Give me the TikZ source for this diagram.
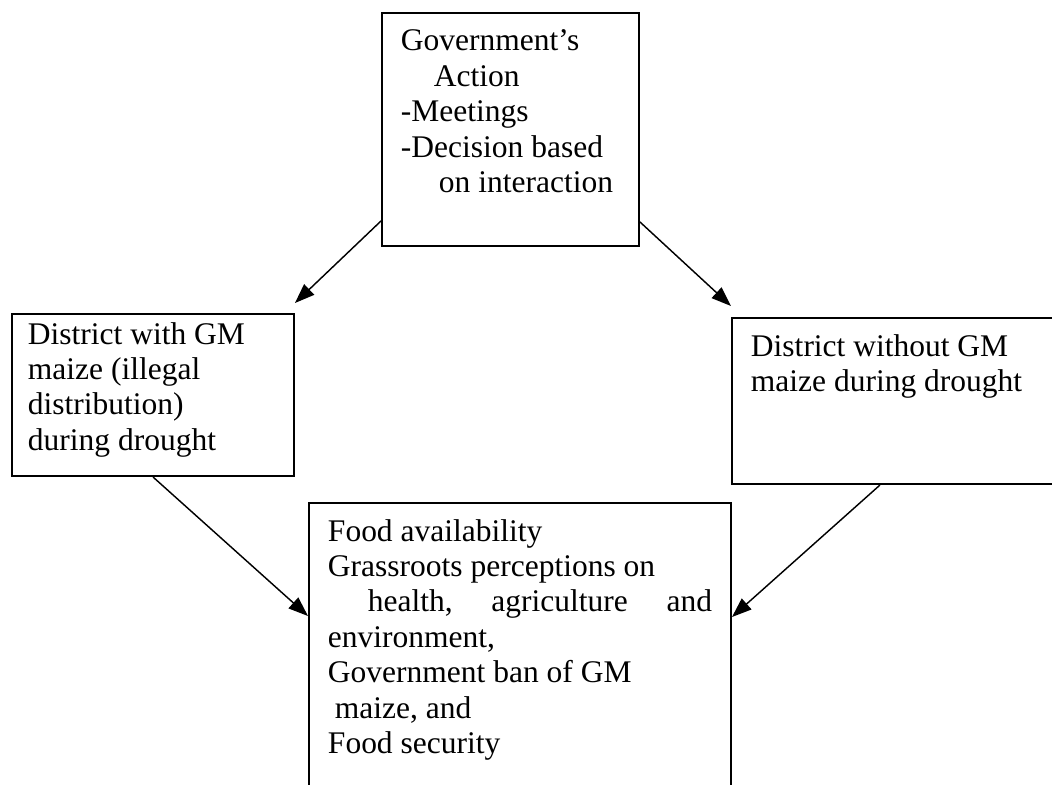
\documentclass[tikz,border=0pt]{standalone}
\usepackage{fontspec}
\setmainfont{Liberation Serif}
\usepackage{tikz}
\usetikzlibrary{arrows.meta,positioning,calc}
\newlength{\unitpx}
\setlength{\unitpx}{0.381pt}
% width, height, first baseline, lines
\newcommand{\cellbox}[4]{\parbox[c][#2\unitpx][t]{#1\unitpx}{\raggedright
  \rule{0pt}{#3\unitpx}#4}}

\begin{document}
\begin{tikzpicture}[x=\unitpx,y=-\unitpx,
  font=\fontsize{12pt}{13.5pt}\selectfont,
  box/.style={draw=black,line width=0.75pt,anchor=north west,
              inner xsep=19\unitpx,inner ysep=0pt},
  arr/.style={-{Triangle[length=7.5pt,width=5.5pt]},line width=0.55pt,draw=black}]
\useasboundingbox (0,0) rectangle (1052,784);
\node[box] (gov) at (381,12) {\cellbox{219}{233}{38}{Government's\\
  \hspace*{33\unitpx}Action\\-Meetings\\-Decision based\\
  \hspace*{38\unitpx}on interaction}};
\node[box,inner xsep=16\unitpx] (withgm) at (11,313) {\cellbox{250}{162}{30}{%
  District with GM\\maize (illegal\\distribution)\\during drought}};
\node[box] (without) at (731,317) {\cellbox{292}{166}{38}{%
  District without GM\\maize during drought}};
\node[box] (food) at (308,502) {\cellbox{384}{290}{38}{Food availability\\
  Grassroots perceptions on\\
  \hspace*{40\unitpx}health,\hfill agriculture\hfill and\\
  environment,\\Government ban of GM\\
  \hspace*{7\unitpx}maize, and\\Food security}};
\draw[arr] ([yshift=26\unitpx]gov.south west)--([yshift=10\unitpx]withgm.north east);
\draw[arr] ([yshift=25\unitpx]gov.south east)--([yshift=11\unitpx]without.north west);
\draw[arr] ([xshift=142\unitpx]withgm.south west)--([yshift=-114\unitpx]food.north west);
\draw[arr] ([xshift=149\unitpx]without.south west)--([yshift=-115\unitpx]food.north east);
\end{tikzpicture}
\end{document}
